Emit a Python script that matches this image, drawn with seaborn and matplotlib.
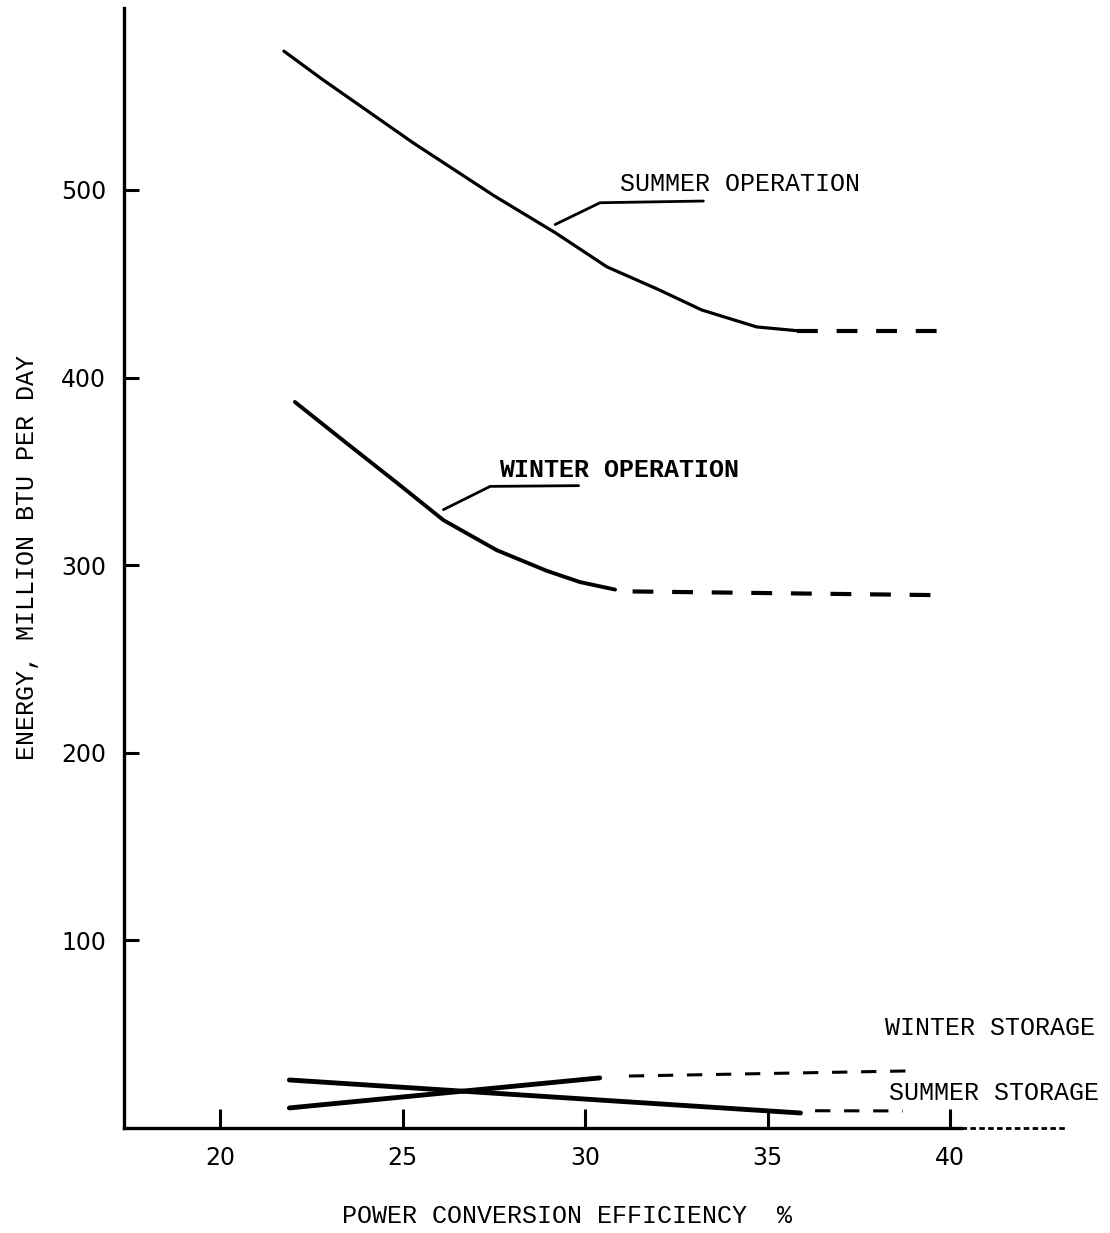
import matplotlib
matplotlib.use("Agg")
import matplotlib.pyplot as plt
import seaborn as sns

# curve values
summer_op_x = [21.75, 22.8, 25.3, 27.5, 29.2, 30.6, 32.0, 33.2, 34.7, 35.8]
summer_op_y = [574, 559, 525, 497, 477, 459, 447, 436, 427, 425]
summer_op_dash_x = [35.8, 39.7]
summer_op_dash_y = [425, 425]

winter_op_x = [22.05, 23.47, 24.84, 26.12, 27.58, 28.95, 29.86, 30.82]
winter_op_y = [387, 365, 344, 324, 308, 297, 291, 287]
winter_op_dash_x = [31.3, 39.8]
winter_op_dash_y = [286, 284]

winter_st_x = [21.9, 30.4]
winter_st_y = [10.7, 26.7]
winter_st_dash_x = [31.2, 38.8]
winter_st_dash_y = [27.7, 30.4]

summer_st_x = [21.9, 35.9]
summer_st_y = [25.6, 8.0]
summer_st_dash_x = [36.3, 38.7]
summer_st_dash_y = [9.2, 9.1]

x_ticks = [20, 25, 30, 35, 40]
y_ticks = [100, 200, 300, 400, 500]

sns.set_style("ticks")
plt.rcParams['font.family'] = ['Liberation Mono', 'DejaVu Sans']
plt.rcParams['text.color'] = 'black'
plt.rcParams['xtick.color'] = 'black'
plt.rcParams['ytick.color'] = 'black'
plt.rcParams['lines.solid_joinstyle'] = 'round'
plt.rcParams['lines.solid_capstyle'] = 'round'

fig = plt.figure(figsize=(11.1, 12.33), dpi=100)
ax = fig.add_axes([124 / 1110, 1 - 1128 / 1233, (1067 - 124) / 1110, (1128 - 8) / 1233])

dash = (0, (5, 4.5))

# operation curves
sns.lineplot(x=summer_op_x, y=summer_op_y, ax=ax, color='black', lw=2.3)
sns.lineplot(x=summer_op_dash_x, y=summer_op_dash_y, ax=ax, color='black', lw=3, linestyle=dash)
sns.lineplot(x=winter_op_x, y=winter_op_y, ax=ax, color='black', lw=2.8)
sns.lineplot(x=winter_op_dash_x, y=winter_op_dash_y, ax=ax, color='black', lw=3, linestyle=dash)

# storage lines
sns.lineplot(x=winter_st_x, y=winter_st_y, ax=ax, color='black', lw=3.5)
sns.lineplot(x=winter_st_dash_x, y=winter_st_dash_y, ax=ax, color='black', lw=2.2, linestyle=dash)
sns.lineplot(x=summer_st_x, y=summer_st_y, ax=ax, color='black', lw=3.5)
sns.lineplot(x=summer_st_dash_x, y=summer_st_dash_y, ax=ax, color='black', lw=2.2, linestyle=dash)

# leaders with underline
ax.plot([29.18, 30.41, 33.24], [481.6, 493.2, 494.1], color='black', lw=2)
ax.plot([26.12, 27.40, 29.82], [329.6, 342.0, 342.4], color='black', lw=2)

ax.text(30.96, 503, 'SUMMER OPERATION', fontsize=18, va='center', ha='left')
ax.text(27.64, 351, 'WINTER OPERATION', fontsize=18, va='center', ha='left', fontweight='bold')
ax.text(38.22, 53.3, 'WINTER STORAGE', fontsize=18, va='center', ha='left', clip_on=False)
ax.text(38.33, 18.7, 'SUMMER STORAGE', fontsize=18, va='center', ha='left', clip_on=False)

ax.set_xlim(17.37, 43.2)
ax.set_ylim(0, 597)
ax.set_xticks(x_ticks)
ax.set_yticks(y_ticks)
ax.set_xticklabels([str(t) for t in x_ticks], family='DejaVu Sans', fontsize=17)
ax.set_yticklabels([str(t) for t in y_ticks], family='DejaVu Sans', fontsize=17)
ax.tick_params(axis='x', direction='in', length=14, width=2.2, pad=13, color='black')
ax.tick_params(axis='y', direction='in', length=11, width=2.2, pad=13, color='black')

sns.despine(ax=ax)
for side in ['left', 'bottom']:
    ax.spines[side].set_linewidth(2.4)
    ax.spines[side].set_color('black')
ax.spines['bottom'].set_bounds(17.37, 40.3)
ax.plot([40.3, 43.2], [0, 0], color='black', lw=2, linestyle=(0, (2, 1.2)), clip_on=False)

ax.set_xlabel('')
ax.set_ylabel('')
fig.text(567 / 1110, 1 - 1216 / 1233, 'POWER CONVERSION EFFICIENCY  %', fontsize=18,
         ha='center', va='center')
fig.text(27 / 1110, 1 - 557 / 1233, 'ENERGY, MILLION BTU PER DAY', fontsize=18,
         rotation=90, ha='center', va='center')

fig.savefig('out.png', dpi=100, facecolor='white')
